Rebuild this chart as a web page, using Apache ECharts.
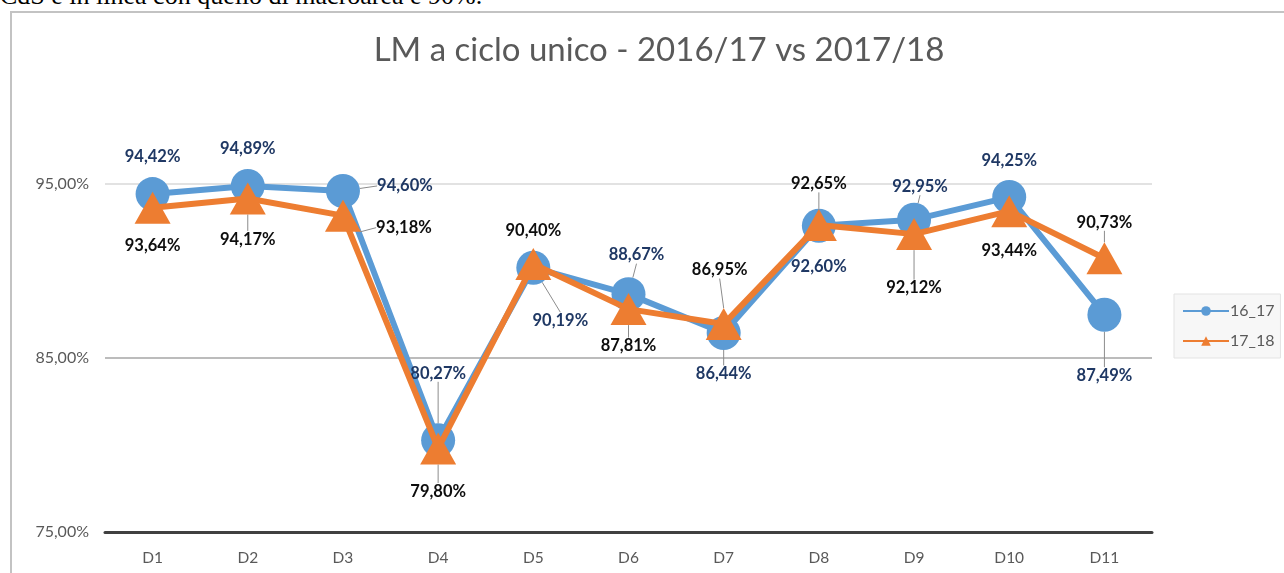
<!DOCTYPE html>
<html lang="it">

<head>
    <meta charset="UTF-8">
    <title>LM a ciclo unico</title>
    <style>
        * {
            margin: 0;
        }

        html,
        body {
            width: 100%;
            height: 100%;
            background: #fff;
            overflow: hidden;
        }

        #intro {
            position: absolute;
            left: 0;
            top: -18px;
            font-family: "Liberation Serif", serif;
            font-size: 26px;
            line-height: 28px;
            color: #000;
            white-space: nowrap;
        }

        #box {
            position: absolute;
            left: 10px;
            top: 11px;
            width: 1300px;
            height: 600px;
            border: 2px solid #c3c3c3;
        }

        #chart {
            position: absolute;
            left: 0;
            top: 0;
            width: 1284px;
            height: 573px;
        }
    </style>
</head>

<body>
    <div id="intro">CdS è in linea con quello di macroarea è 90%.</div>
    <div id="box"></div>
    <div id="chart"></div>
    <script src="https://cdn.jsdelivr.net/npm/echarts@6/dist/echarts.min.js"></script>
    <script>
        var categories = ['D1', 'D2', 'D3', 'D4', 'D5', 'D6', 'D7', 'D8', 'D9', 'D10', 'D11'];
        var v1617 = [94.42, 94.89, 94.60, 80.27, 90.19, 88.67, 86.44, 92.60, 92.95, 94.25, 87.49];
        var v1718 = [93.64, 94.17, 93.18, 79.80, 90.40, 87.81, 86.95, 92.65, 92.12, 93.44, 90.73];
        var yTicks = [75, 85, 95];

        // where Excel dragged each data label (px from the point)
        var off1617 = [[0, -37], [0, -37], [62, -5], [0, -67], [27, 53], [8, -39], [0, 41], [0, 41], [6, -33], [0, -36], [0, 61]];
        var off1718 = [[0, 38], [0, 41], [61, 12], [0, 43], [0, -33], [0, 37], [-4, -54], [0, -41], [0, 54], [0, 40], [0, -36]];
        var lead1617 = [0, 0, 1, 1, 1, 1, 1, 0, 1, 0, 1];
        var lead1718 = [0, 1, 1, 1, 0, 1, 1, 1, 1, 0, 1];

        function fmt(v) {
            return v.toFixed(2).replace('.', ',') + '%';
        }

        function items(vals, lead) {
            return vals.map(function (v, i) {
                return { value: v, labelLine: { show: !!lead[i] } };
            });
        }

        var chart = echarts.init(document.getElementById('chart'));
        var font = 'Lato, "Noto Sans", sans-serif';
        var offs = [off1617, off1718];

        var option = {
            animation: false,
            textStyle: { fontFamily: font },
            title: {
                text: 'LM a ciclo unico - 2016/17 vs 2017/18',
                left: 654,
                textAlign: 'center',
                top: 29,
                textStyle: { fontFamily: font, fontSize: 33, fontWeight: 'normal', color: '#595959' }
            },
            grid: { left: 105, right: 132, top: 184, bottom: 41 },
            legend: {
                orient: 'vertical',
                left: 1174,
                top: 294,
                padding: [9, 6, 9, 8],
                itemGap: 14,
                itemWidth: 46,
                itemHeight: 12,
                backgroundColor: '#f7f7f7',
                borderColor: '#e3e3e3',
                borderWidth: 1,
                textStyle: { fontFamily: font, fontSize: 16, color: '#595959', padding: [0, 0, 0, -4] },
                data: ['16_17', '17_18']
            },
            xAxis: {
                type: 'category',
                data: categories,
                axisTick: { show: false },
                axisLine: { lineStyle: { color: '#404040', width: 3 } },
                axisLabel: { color: '#595959', fontSize: 15.5, margin: 18 }
            },
            yAxis: {
                type: 'value',
                min: yTicks[0],
                max: yTicks[yTicks.length - 1],
                interval: 10,
                axisLine: { show: false },
                axisTick: { show: false },
                axisLabel: {
                    color: '#595959', fontSize: 16, margin: 16,
                    formatter: function (v) { return v.toFixed(2).replace('.', ',') + '%'; }
                },
                splitLine: { lineStyle: { color: ['#d9d9d9', '#a6a6a6', '#d9d9d9'], width: 1.5 } }
            },
            series: [{
                name: '16_17',
                type: 'line',
                clip: false,
                data: items(v1617, lead1617),
                symbol: 'circle',
                symbolSize: 34,
                lineStyle: { width: 6, color: '#5b9bd5' },
                itemStyle: { color: '#5b9bd5' },
                label: {
                    show: true, position: 'inside', color: '#1f3864', fontSize: 16.5, fontWeight: 'bold',
                    formatter: function (p) { return fmt(p.value); }
                },
                labelLine: { lineStyle: { color: '#8c8c8c', width: 1 } },
                z: 2
            }, {
                name: '17_18',
                type: 'line',
                clip: false,
                data: items(v1718, lead1718),
                symbol: 'triangle',
                symbolSize: [36, 32],
                lineStyle: { width: 6, color: '#ed7d31' },
                itemStyle: { color: '#ed7d31' },
                label: {
                    show: true, position: 'inside', color: '#0d0d0d', fontSize: 16.5, fontWeight: 'bold',
                    formatter: function (p) { return fmt(p.value); }
                },
                labelLine: { lineStyle: { color: '#8c8c8c', width: 1 } },
                z: 3
            }],
            labelLayout: function (p) {
                var o = offs[p.seriesIndex][p.dataIndex];
                return { dx: o[0], dy: o[1] };
            }
        };
        chart.setOption(option);
    </script>
</body>

</html>
